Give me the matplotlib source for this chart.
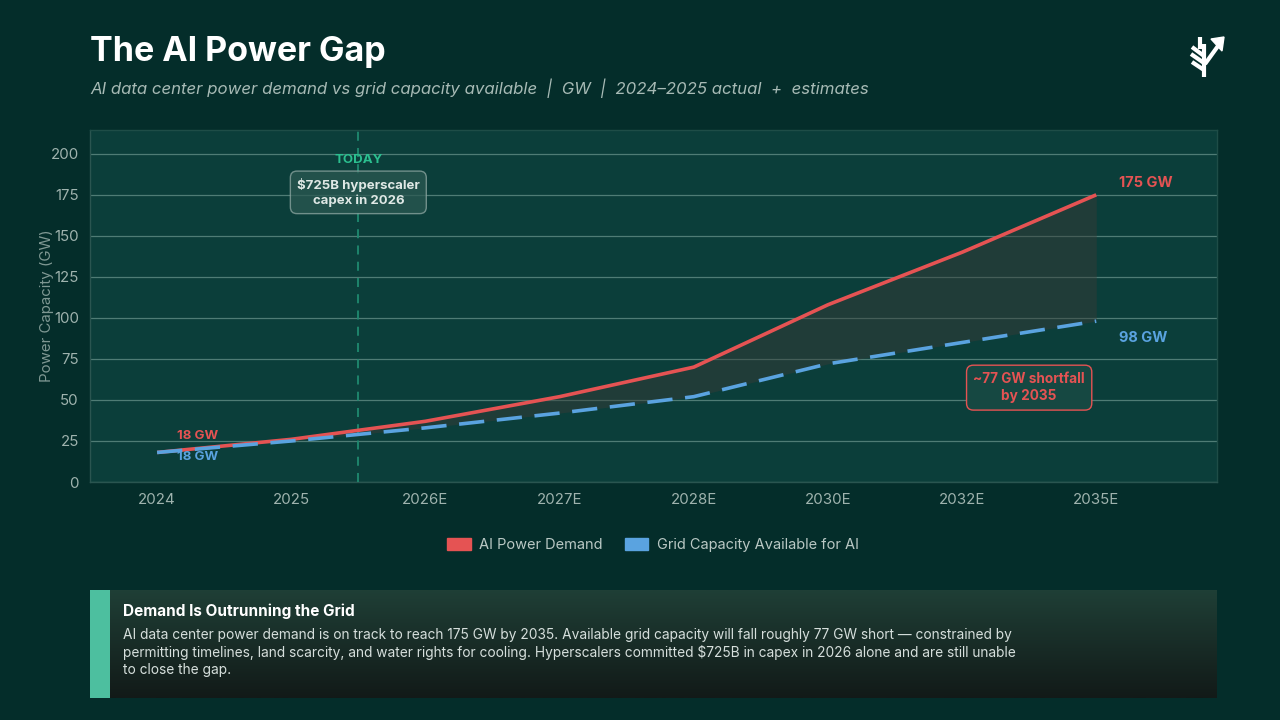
import numpy as np
import matplotlib.pyplot as plt
from matplotlib.patches import Rectangle
from matplotlib.lines import Line2D

plt.rcParams['font.family'] = ['Inter', 'DejaVu Sans']

# data
years = ["2024", "2025", "2026E", "2027E", "2028E", "2030E", "2032E", "2035E"]
demand_gw = [18, 26, 37, 52, 70, 108, 140, 175]
grid_gw = [18, 25, 33, 42, 52, 72, 85, 98]
y_ticks = [0, 25, 50, 75, 100, 125, 150, 175, 200]
today_pos = 1.5

bg = "#042d2a"
plot_bg = "#0b3e3a"
red = "#e55353"
blue = "#5aa3e0"
teal = "#2bbf8f"
tick_col = "#9fb3ae"

W, H = 1280, 720
fig = plt.figure(figsize=(12.8, 7.2), dpi=100, facecolor=bg)


def px(x, y):
    return x / W, 1 - y / H


# main chart
ax = fig.add_axes([90 / W, 1 - 482 / H, 1127 / W, 352 / H])
ax.set_facecolor(plot_bg)
x = np.arange(len(years))
ax.fill_between(x, grid_gw, demand_gw, color="#3a3a36", alpha=0.45, lw=0, zorder=2)
ax.plot(x, demand_gw, color=red, lw=2.6, zorder=4, solid_capstyle="butt")
ax.plot(x, grid_gw, color=blue, lw=2.6, dashes=(7, 3.5), zorder=4)
ax.axvline(today_pos, color="#1f8a70", lw=1.3, dashes=(5, 4), zorder=3)

ax.set_xlim(-0.5, 7.9)
ax.set_ylim(0, 214.5)
ax.set_xticks(x)
ax.set_xticklabels(years)
ax.set_yticks(y_ticks)
ax.grid(axis="y", color="#4f7c75", lw=0.9)
ax.set_axisbelow(True)
ax.tick_params(colors=tick_col, labelsize=10.8, length=0, pad=8)
for lab in ax.get_xticklabels() + ax.get_yticklabels():
    lab.set_color(tick_col)
for s in ax.spines.values():
    s.set_color("#1e4d47")
    s.set_linewidth(1)
ax.spines["left"].set_color("#2a5550")
ax.spines["bottom"].set_color("#2a5550")
ax.set_ylabel("Power Capacity (GW)", color="#7f9893", fontsize=10.8)
ax.yaxis.set_label_coords(-36 / 1127, 0.5)

# annotations
ax.text(today_pos, 196, "TODAY", color=teal, fontsize=9.5, fontweight="bold",
        ha="center", va="center", zorder=6)
ax.text(today_pos, 176.5, "$725B hyperscaler\ncapex in 2026", color="#dfe8e5",
        fontsize=9.5, fontweight="bold", ha="center", va="center", linespacing=1.3,
        zorder=6,
        bbox=dict(boxstyle="round,pad=0.5,rounding_size=0.5", fc="#2b5852",
                  ec="#8fa8a3", lw=1, alpha=0.75))
ax.text(0.15, 28, "18 GW", color=red, fontsize=9.5, fontweight="bold", va="center", zorder=6)
ax.text(0.15, 15.5, "18 GW", color=blue, fontsize=9.5, fontweight="bold", va="center", zorder=6)
ax.text(7.17, 182, "175 GW", color=red, fontsize=10.5, fontweight="bold", va="center", zorder=6)
ax.text(7.17, 88, "98 GW", color=blue, fontsize=10.5, fontweight="bold", va="center", zorder=6)
ax.text(6.5, 57.5, "~77 GW shortfall\nby 2035", color=red, fontsize=9.8, fontweight="bold",
        ha="center", va="center", linespacing=1.3, zorder=6,
        bbox=dict(boxstyle="round,pad=0.5,rounding_size=0.5", fc="#164842",
                  ec=red, lw=1))

# legend
handles = [Rectangle((0, 0), 1, 1, fc=red, ec=red),
           Rectangle((0, 0), 1, 1, fc=blue, ec=blue)]
fig.legend(handles, ["AI Power Demand", "Grid Capacity Available for AI"],
           loc="center", bbox_to_anchor=px(653, 545), ncol=2, frameon=False,
           fontsize=10.5, labelcolor="#b9c8c4", handlelength=1.6, handleheight=0.8,
           columnspacing=1.5, handletextpad=0.6)

# title block
fig.text(*px(90, 52), "The AI Power Gap", color="white", fontsize=24.5,
         fontweight="bold", va="center")
fig.text(*px(90, 88), "AI data center power demand vs grid capacity available  |  GW  |  2024\u20132025 actual  +  estimates",
         color="#a7bab5", fontsize=12.1, style="italic", va="center")

# logo
logo = [
    [(1204, 77), (1204, 44)],
    [(1200, 49), (1200, 37)],
    [(1204, 56), (1192, 47)],
    [(1204, 63), (1191, 54)],
    [(1204, 70), (1192, 62)],
    [(1205, 64), (1218, 46)],
]
for (x0, y0), (x1, y1) in logo:
    a, b = px(x0, y0)
    c, d = px(x1, y1)
    fig.add_artist(Line2D([a, c], [b, d], color="white", lw=3.0, solid_capstyle="butt"))
fig.add_artist(plt.Polygon([px(1224, 37), px(1211, 39), px(1222, 51)], closed=True,
                           color="white"))

# bottom callout box
box = fig.add_axes([90 / W, 1 - 698 / H, 1127 / W, 108 / H])
grad = np.linspace(0, 1, 100).reshape(-1, 1)
top_c = np.array([0x1f, 0x3f, 0x36]) / 255
bot_c = np.array([0x12, 0x1a, 0x18]) / 255
img = top_c[None, None, :] * (1 - grad[:, :, None]) + bot_c[None, None, :] * grad[:, :, None]
box.imshow(img, aspect="auto", extent=[0, 1, 0, 1])
box.set_xlim(0, 1)
box.set_ylim(0, 1)
box.axis("off")
fig.add_artist(Rectangle(px(90, 698), 20 / W, 108 / H, fc="#4dbf9f", ec="none"))
fig.text(*px(123, 611), "Demand Is Outrunning the Grid", color="white", fontsize=11,
         fontweight="bold", va="center")
body = ("AI data center power demand is on track to reach 175 GW by 2035. Available grid capacity will fall roughly 77 GW short \u2014 constrained by\n"
        "permitting timelines, land scarcity, and water rights for cooling. Hyperscalers committed $725B in capex in 2026 alone and are still unable\n"
        "to close the gap.")
fig.text(*px(123, 628), body, color="#d6dfdc", fontsize=9.9, va="top", linespacing=1.25)

fig.savefig("out.png", dpi=100, facecolor=bg)
